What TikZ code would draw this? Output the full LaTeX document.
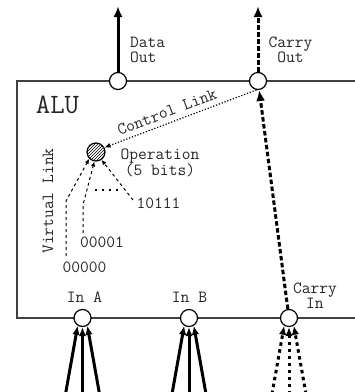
\documentclass[tikz,border=0pt]{standalone}
\usepackage{fontspec}
\usetikzlibrary{arrows.meta,patterns}
\begin{document}
\begin{tikzpicture}[x=1pt,y=-1pt,
  lbl/.style={font=\ttfamily\fontsize{17}{15}\selectfont, text=black!85, inner sep=0pt, align=center},
  port/.style={circle, draw=black, line width=1.2pt, fill=white, minimum size=17pt, inner sep=0pt},
  opnode/.style={circle, draw=black, line width=1.2pt, pattern=north east lines, minimum size=18pt, inner sep=0pt},
  frame/.style={draw=black!75, line width=1.3pt},
  bus/.style={line width=3pt, -{Latex[length=9pt,width=7.5pt]}},
  outbus/.style={line width=3pt, -{Latex[length=11pt,width=9pt]}},
  carrybus/.style={outbus, dash pattern=on 4.5pt off 2.5pt},
  carryin/.style={bus, dash pattern=on 3.5pt off 3.5pt},
  vlink/.style={line width=1pt, dash pattern=on 3pt off 3pt, -{Latex[length=5pt,width=4.5pt]}},
  clink/.style={line width=1.2pt, dash pattern=on 1.2pt off 1.8pt, -{Latex[length=6pt,width=5pt]}},
  ellip/.style={line width=1.6pt, dash pattern=on 1.6pt off 5.5pt}
]
\useasboundingbox (0,0) rectangle (355,392);

% ALU outline (open to the right)
\draw[frame] (360,81) -- (17,81) -- (17,318) -- (360,318);

% ports on the outline
\node[port] (dout) at (118,81) {};
\node[port] (cout) at (258,81) {};
\node[port] (ina) at (82.5,318) {};
\node[port] (inb) at (189,318) {};
\node[port] (cin) at (289,318) {};

% operation selector
\node[opnode] (op) at (96,152) {};

% free ends of the wires
\coordinate (doutend) at (118,6);
\coordinate (coutend) at (258,6);
\coordinate (ina1) at (65.5,394);
\coordinate (ina2) at (82.5,394);
\coordinate (ina3) at (99.5,394);
\coordinate (inb1) at (172,394);
\coordinate (inb2) at (189,394);
\coordinate (inb3) at (206,394);
\coordinate (cin1) at (272,394);
\coordinate (cin2) at (289,394);
\coordinate (cin3) at (306,394);
\coordinate (v0) at (66,256);
\coordinate (v0k) at (66,201);
\coordinate (v1) at (83,233);
\coordinate (v1k) at (83,205);
\coordinate (v2) at (133,200);
\coordinate (d1) at (95,190);
\coordinate (d2) at (120,190);

% outputs
\draw[outbus] (dout) -- (doutend);
\draw[carrybus] (cout) -- (coutend);
\draw[carrybus] (cin) -- (cout);

% inputs
\draw[bus] (ina1) -- (ina.-122);
\draw[bus] (ina2) -- (ina.south);
\draw[bus] (ina3) -- (ina.-58);
\draw[bus] (inb1) -- (inb.-122);
\draw[bus] (inb2) -- (inb.south);
\draw[bus] (inb3) -- (inb.-58);
\draw[carryin] (cin1) -- (cin.-122);
\draw[carryin] (cin2) -- (cin.south);
\draw[carryin] (cin3) -- (cin.-58);

% virtual links into the operation selector
\draw[vlink] (v0) -- (v0k) -- (op.-135);
\draw[vlink] (v1) -- (v1k) -- (op.-100);
\draw[vlink] (v2) -- (op.-55);
\draw[ellip] (d1) -- (d2);

% control link
\draw[clink] (cout.-100) -- (op.28);

% labels
\node[lbl, align=left, anchor=west] (tdout) at (130,50) {Data\\Out};
\node[lbl] (tcout) at (290.5,50) {Carry\\Out};
\node[lbl] (tcin) at (315,296) {Carry\\In};
\node[lbl] (tina) at (84.5,297.5) {In A};
\node[lbl] (tinb) at (189.5,297.5) {In B};
\node[lbl] (top) at (160,163) {Operation\\(5 bits)};
\node[lbl] (t10111) at (158.5,203.5) {10111};
\node[lbl] (t00001) at (102,242.5) {00001};
\node[lbl] (t00000) at (84.5,267) {00000};
\node[lbl, font=\ttfamily\fontsize{28}{28}\selectfont] (talu) at (57.5,104.5) {ALU};
\node[lbl, rotate=90] (tvl) at (48,201) {Virtual Link};
\node[lbl, rotate=21] (tcl) at (167,112) {Control Link};
\end{tikzpicture}
\end{document}
